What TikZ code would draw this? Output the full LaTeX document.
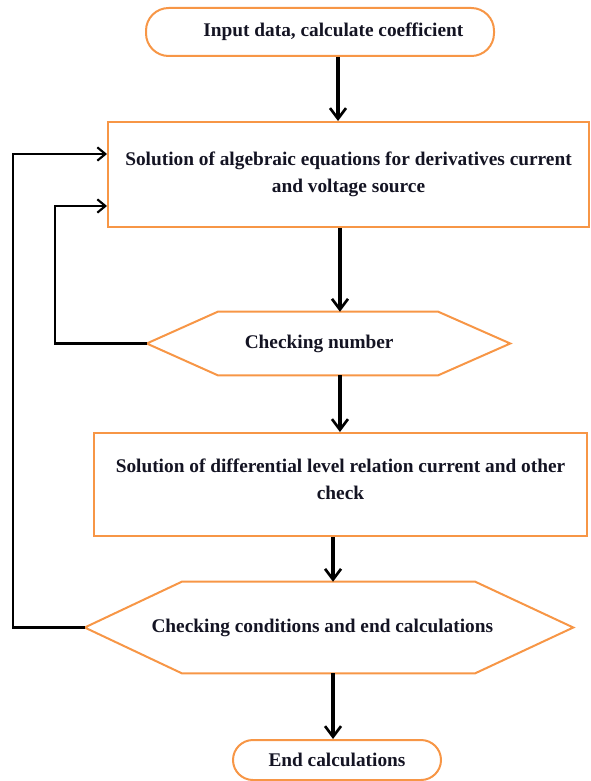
\documentclass[tikz,border=0pt]{standalone}
\usepackage{fontspec}
\setmainfont{Liberation Serif}
\usetikzlibrary{arrows.meta,calc}
\definecolor{boxorange}{RGB}{247,150,70}
\definecolor{txt}{RGB}{20,20,35}
\tikzset{
  every node/.style={font=\bfseries\fontsize{14.5}{20}\selectfont, text=txt, align=center},
  term/.style={draw=boxorange, line width=1.5pt, rounded corners=17pt, inner sep=0pt},
  procbox/.style={draw=boxorange, line width=1.5pt, inner sep=0pt},
  hexbase/.style={inner sep=0pt},
  hexline/.style={draw=boxorange, line width=1.5pt, line join=miter},
  flow/.style={draw=black, line width=2.4pt, -{Straight Barb[length=8pt,width=12pt,line width=2pt]}},
  back/.style={draw=black, line width=1.6pt, -{Straight Barb[length=6pt,width=10pt,line width=1.6pt]}},
}
\begin{document}
\begin{tikzpicture}[x=0.75pt,y=-0.75pt]
\useasboundingbox (0,0) rectangle (590,781);
\node[term, minimum width=261pt, minimum height=36pt] (start) at (320,32) {\hspace*{20pt}Input data, calculate coefficient};
\node[procbox, minimum width=360.75pt, minimum height=78.75pt] (box1) at (348.5,174.5) {Solution of algebraic equations for derivatives current\\and voltage source};
\node[hexbase, minimum width=272.25pt, minimum height=47.25pt] (hex1) at (328.5,343.5) {\hspace*{-14pt}Checking number};
\draw[hexline] (hex1.west) -- ($(hex1.north west)+(71,0)$) -- ($(hex1.north east)+(-72,0)$) -- (hex1.east) -- ($(hex1.south east)+(-72,0)$) -- ($(hex1.south west)+(71,0)$) -- cycle;
\node[procbox, minimum width=369.75pt, minimum height=77.25pt] (box2) at (340.5,484.5) {};
\node (box2text) at ([yshift=4pt]box2.center) {Solution of differential level relation current and other\\check};
\node[hexbase, minimum width=366pt, minimum height=68.25pt] (hex2) at (329,627.5) {\hspace*{-10pt}Checking conditions and end calculations};
\draw[hexline] (hex2.west) -- ($(hex2.north west)+(97,0)$) -- ($(hex2.north east)+(-98,0)$) -- (hex2.east) -- ($(hex2.south east)+(-98,0)$) -- ($(hex2.south west)+(97,0)$) -- cycle;
\node[term, minimum width=156pt, minimum height=30pt, rounded corners=15pt] (end) at (337,760) {End calculations};
% main flow
\draw[flow] ([xshift=13.5pt]start.south) -- ([xshift=13.5pt]start.south |- box1.north);
\draw[flow] ([xshift=-6.4pt]box1.south) -- ([xshift=-6.4pt]box1.south |- hex1.north);
\draw[flow] ([xshift=-6.4pt]box1.south |- hex1.south) -- ([xshift=-6.4pt]box1.south |- box2.north);
\draw[flow] ([xshift=-5.6pt]box2.south) -- ([xshift=-5.6pt]box2.south |- hex2.north);
\draw[flow] ([xshift=-5.6pt]box2.south |- hex2.south) -- ([xshift=-5.6pt]box2.south |- end.north);
% feedback
\coordinate (c1) at (55,0);
\coordinate (c2) at (13,0);
\draw[back] (hex1.west) -- (hex1.west -| c1) -- (c1 |- 0,206) -- (box1.west |- 0,206);
\draw[back] (hex2.west) -- (hex2.west -| c2) -- (c2 |- 0,154) -- (box1.west |- 0,154);
\end{tikzpicture}
\end{document}
